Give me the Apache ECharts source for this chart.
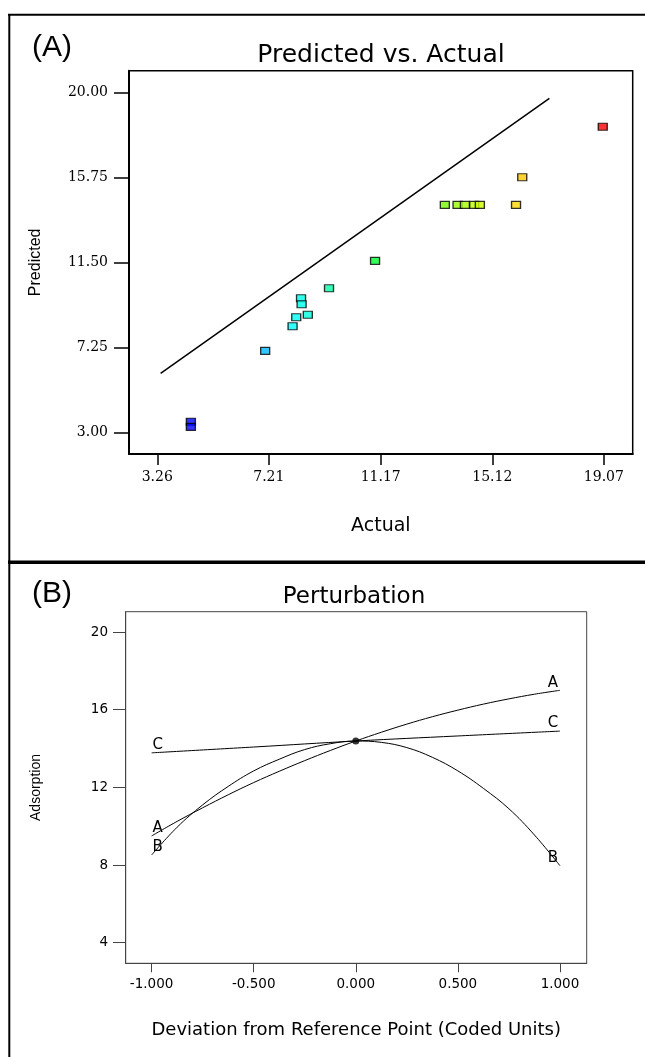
<!DOCTYPE html>
<html lang="en">
<head>
    <meta charset="UTF-8">
    <title>Predicted vs. Actual / Perturbation</title>
    <script src="https://cdn.jsdelivr.net/npm/echarts@6.0.0/dist/echarts.min.js"></script>
    <style>
        body { margin: 0; background: #fff; }
    </style>
</head>
<body>
    <div id="main" style="width: 645px;height:1057px;"></div>
    <script>
        // (A) predicted vs. actual
        const actual    = [19.03, 16.18, 15.96, 13.44, 13.89, 14.15, 14.48, 14.68, 10.97, 9.34, 8.35, 8.37, 8.59, 8.18, 8.05, 7.08, 4.45, 4.45];
        const predicted = [18.30, 15.77, 14.39, 14.39, 14.39, 14.39, 14.39, 14.39, 11.59, 10.22, 9.72, 9.42, 8.90, 8.77, 8.32, 7.09, 3.55, 3.29];
        const fitLineX = [3.38, 17.14];
        const fitLineY = [5.97, 19.72];
        const actualTicks = [3.26, 7.21, 11.17, 15.12, 19.07];
        const predictedTicks = [3.00, 7.25, 11.50, 15.75, 20.00];

        // (B) perturbation
        const deviation = [-1, -0.875, -0.75, -0.625, -0.5, -0.375, -0.25, -0.125, 0, 0.125, 0.25, 0.375, 0.5, 0.625, 0.75, 0.875, 1];
        const factorA = [9.50, 10.25, 10.95, 11.62, 12.25, 12.83, 13.38, 13.90, 14.39, 14.84, 15.26, 15.64, 15.98, 16.29, 16.56, 16.80, 17.00];
        const factorB = [8.52, 9.95, 11.10, 12.05, 12.85, 13.45, 13.95, 14.25, 14.39, 14.32, 14.05, 13.55, 12.85, 11.95, 10.90, 9.55, 7.97];
        const deviationC = [-1, -0.5, 0, 0.5, 1];
        const factorC = [13.78, 14.08, 14.39, 14.65, 14.90];
        const refPoint = [0, 14.39];
        const deviationTicks = [-1, -0.5, 0, 0.5, 1];
        const adsorptionTicks = [4, 8, 12, 16, 20];

        var myChart = echarts.init(document.getElementById('main'));

        const serifLbl = { fontFamily: 'DejaVu Serif', fontSize: 14, color: '#000' };
        const sansLbl = { fontFamily: 'DejaVu Sans', fontSize: 13.5, color: '#000' };

        // puts the factor letter above both ends of a perturbation curve
        function withEndLabels(xs, ys, name) {
            return xs.map(function (x, i) {
                const item = { value: [x, ys[i]] };
                if (i === 0 || i === xs.length - 1) {
                    item.label = {
                        show: true, formatter: name, position: 'top', distance: 0,
                        offset: [i === 0 ? 6 : -7, 0],
                        fontFamily: 'DejaVu Sans', fontSize: 15, color: '#000'
                    };
                }
                return item;
            });
        }

        function curve(xs, ys, name) {
            return {
                type: 'line', xAxisIndex: 1, yAxisIndex: 1, smooth: 0.4,
                symbol: 'circle', symbolSize: 0.01, showSymbol: true,
                itemStyle: { color: 'transparent' },
                lineStyle: { color: '#000', width: 1 },
                data: withEndLabels(xs, ys, name)
            };
        }

        var option = {
            animation: false,
            graphic: [
                { type: 'line', shape: { x1: 8, y1: 14.7, x2: 645, y2: 14.7 }, style: { stroke: '#000', lineWidth: 2 } },
                { type: 'line', shape: { x1: 9.3, y1: 14, x2: 9.3, y2: 1057 }, style: { stroke: '#000', lineWidth: 2 } },
                { type: 'line', shape: { x1: 8, y1: 562.3, x2: 645, y2: 562.3 }, style: { stroke: '#000', lineWidth: 3.5 } },
                { type: 'text', x: 52, y: 48, style: { text: '(A)', font: '30px "Liberation Sans"', fill: '#000', textAlign: 'center', textVerticalAlign: 'middle' } },
                { type: 'text', x: 52, y: 594, style: { text: '(B)', font: '30px "Liberation Sans"', fill: '#000', textAlign: 'center', textVerticalAlign: 'middle' } },
                { type: 'text', x: 381, y: 55, style: { text: 'Predicted vs. Actual', font: '25px "DejaVu Sans"', fill: '#000', textAlign: 'center', textVerticalAlign: 'middle' } },
                { type: 'text', x: 354, y: 597, style: { text: 'Perturbation', font: '23px "DejaVu Sans"', fill: '#000', textAlign: 'center', textVerticalAlign: 'middle' } }
            ],
            grid: [
                { left: 129, top: 70.7, width: 503.7, height: 383.3, show: true, borderColor: '#000', borderWidth: 1.5 },
                { left: 125.7, top: 611.7, width: 461, height: 351.6, show: true, borderColor: '#444', borderWidth: 1 }
            ],
            xAxis: [
                {
                    type: 'value', gridIndex: 0, min: 2.26, max: 20.09,
                    name: 'Actual', nameLocation: 'middle', nameGap: 63,
                    nameTextStyle: { fontFamily: 'DejaVu Sans', fontSize: 19, color: '#000' },
                    axisLine: { show: true, onZero: false, lineStyle: { color: '#000', width: 2 } },
                    axisTick: { show: true, length: 11, lineStyle: { color: '#000', width: 1.5 }, customValues: actualTicks },
                    axisLabel: Object.assign({ margin: 16, customValues: actualTicks, formatter: function (v) { return v.toFixed(2); } }, serifLbl),
                    splitLine: { show: false }
                },
                {
                    type: 'value', gridIndex: 1, min: -1.127, max: 1.131,
                    name: 'Deviation from Reference Point (Coded Units)', nameLocation: 'middle', nameGap: 58,
                    nameTextStyle: { fontFamily: 'DejaVu Sans', fontSize: 18, color: '#000' },
                    axisLine: { show: true, onZero: false, lineStyle: { color: '#444', width: 1 } },
                    axisTick: { show: true, length: 9, lineStyle: { color: '#444', width: 1 }, customValues: deviationTicks },
                    axisLabel: Object.assign({ margin: 14, customValues: deviationTicks, formatter: function (v) { return v.toFixed(3); } }, sansLbl),
                    splitLine: { show: false }
                }
            ],
            yAxis: [
                {
                    type: 'value', gridIndex: 0, min: 1.935, max: 21.1,
                    name: 'Predicted', nameLocation: 'middle', nameGap: 85, nameRotate: 90,
                    nameTextStyle: { fontFamily: 'Liberation Sans', fontSize: 16, color: '#000' },
                    axisLine: { show: true, onZero: false, lineStyle: { color: '#000', width: 2 } },
                    axisTick: { show: true, length: 15, lineStyle: { color: '#000', width: 1.5 }, customValues: predictedTicks },
                    axisLabel: Object.assign({ margin: 21, customValues: predictedTicks, formatter: function (v) { return v.toFixed(2); } }, serifLbl),
                    splitLine: { show: false }
                },
                {
                    type: 'value', gridIndex: 1, min: 2.94, max: 21.05,
                    name: 'Adsorption', nameLocation: 'middle', nameGap: 83, nameRotate: 90,
                    nameTextStyle: { fontFamily: 'Liberation Sans', fontSize: 14, color: '#000' },
                    axisLine: { show: true, onZero: false, lineStyle: { color: '#444', width: 1 } },
                    axisTick: { show: true, length: 12.7, lineStyle: { color: '#444', width: 1 }, customValues: adsorptionTicks },
                    axisLabel: Object.assign({ margin: 17.7, customValues: adsorptionTicks }, sansLbl),
                    splitLine: { show: false }
                }
            ],
            visualMap: {
                show: false, type: 'continuous', seriesIndex: 0, dimension: 0,
                min: 4.45, max: 19.03,
                inRange: { color: ['#0000ff', '#00ffff', '#00ff00', '#ffff00', '#ff0000'] }
            },
            series: [
                {
                    type: 'scatter', xAxisIndex: 0, yAxisIndex: 0,
                    symbol: 'rect', symbolSize: [9, 7],
                    itemStyle: { borderColor: '#000', borderWidth: 1.2 },
                    data: actual.map(function (a, i) { return [a, predicted[i]]; })
                },
                {
                    type: 'line', xAxisIndex: 0, yAxisIndex: 0, symbol: 'none',
                    lineStyle: { color: '#000', width: 1.5 },
                    data: fitLineX.map(function (x, i) { return [x, fitLineY[i]]; })
                },
                curve(deviation, factorA, 'A'),
                curve(deviation, factorB, 'B'),
                curve(deviationC, factorC, 'C'),
                {
                    type: 'scatter', xAxisIndex: 1, yAxisIndex: 1,
                    symbol: 'circle', symbolSize: 7, itemStyle: { color: '#000' },
                    data: [refPoint]
                }
            ]
        };

        myChart.setOption(option);
    </script>
</body>
</html>
